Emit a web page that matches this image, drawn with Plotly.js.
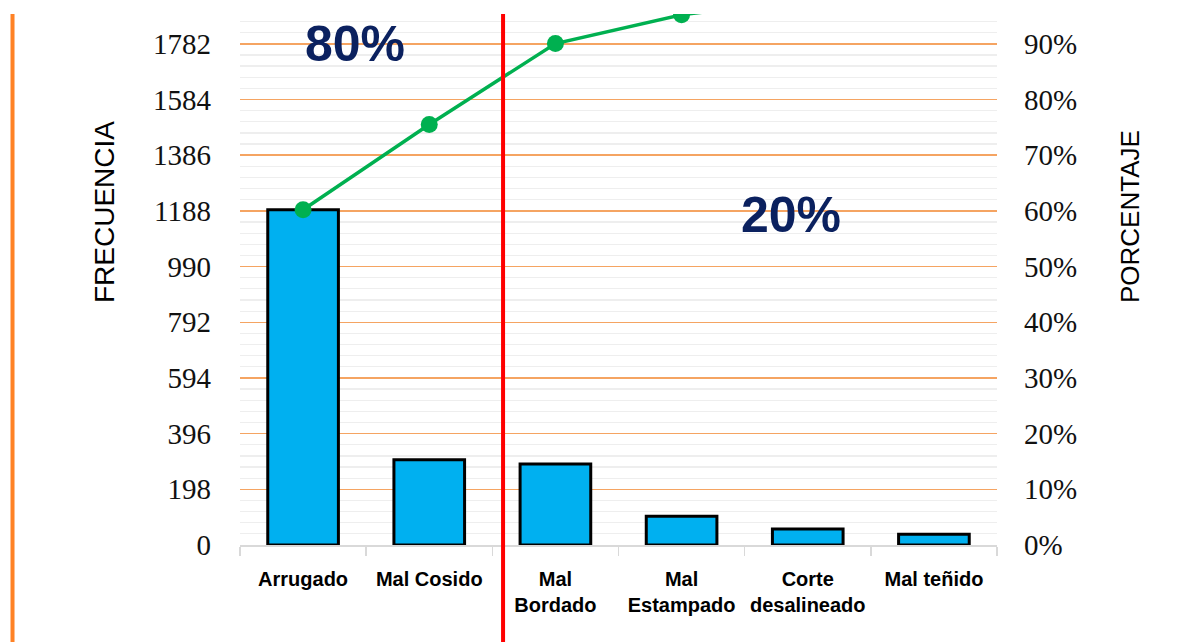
<!DOCTYPE html>
<html>
<head>
<meta charset="utf-8">
<script src="https://cdn.plot.ly/plotly-3.0.1.min.js"></script>
<style>
  html, body { margin: 0; padding: 0; background: #ffffff; }
  #chart { width: 1198px; height: 642px; }
</style>
</head>
<body>
<div id="chart"></div>
<script>
// ---- data ----
const categories = ["Arrugado", "Mal Cosido", "Mal<br>Bordado", "Mal<br>Estampado", "Corte<br>desalineado", "Mal teñido"];
const frecuencia = [1192, 303, 288, 102, 57, 38];
const leftTicks = [0, 198, 396, 594, 792, 990, 1188, 1386, 1584, 1782];
const rightTicks = [0, 10, 20, 30, 40, 50, 60, 70, 80, 90];
const visibleTop = 1888; // top of the (cropped) primary axis

// cumulative percentage derived from the frequencies
const total = frecuencia.reduce((a, b) => a + b, 0);
let run = 0;
const porcentaje = frecuencia.map(v => { run += v; return run / total * 100; });

const bars = {
  type: 'bar',
  x: categories,
  y: frecuencia,
  marker: { color: '#00B0F0', line: { color: '#000000', width: 3 } },
  yaxis: 'y',
  hoverinfo: 'x+y'
};

const line = {
  type: 'scatter',
  mode: 'lines+markers',
  x: categories,
  y: porcentaje,
  yaxis: 'y2',
  line: { color: '#00B050', width: 3.5 },
  marker: { color: '#00B050', size: 17 },
  cliponaxis: true
};

const tickFont = { family: 'Liberation Serif, Times New Roman, serif', size: 29, color: '#111111' };
const titleFont = { family: 'Liberation Sans, Arial, sans-serif', size: 28, color: '#000000' };

const layout = {
  width: 1198,
  height: 642,
  margin: { l: 240, r: 201, t: 14, b: 97 },
  paper_bgcolor: '#ffffff',
  plot_bgcolor: '#ffffff',
  showlegend: false,
  bargap: 0.44,
  xaxis: {
    type: 'category',
    showgrid: false,
    showline: true,
    linecolor: '#D9D9D9',
    linewidth: 1.5,
    ticks: 'outside',
    tickson: 'boundaries',
    ticklen: 9,
    tickcolor: '#D9D9D9',
    tickwidth: 1.5,
    ticklabelstandoff: 15,
    tickfont: { family: 'Liberation Sans, Arial, sans-serif', size: 20, color: '#000000', weight: 'bold' },
    range: [-0.5, 5.5]
  },
  yaxis: {
    range: [0, visibleTop],
    tickvals: leftTicks,
    ticktext: leftTicks.map(String),
    tickfont: tickFont,
    ticklabelstandoff: 28,
    showgrid: true,
    gridcolor: '#F5A462',
    gridwidth: 1.5,
    zeroline: false,
    showline: false,
    minor: { dtick: 39.6, tick0: 0, showgrid: true, gridcolor: '#EEEEEE', gridwidth: 1.2 }
  },
  yaxis2: {
    overlaying: 'y',
    side: 'right',
    range: [0, visibleTop / total * 100],
    tickvals: rightTicks,
    ticktext: rightTicks.map(v => v + '%'),
    tickfont: tickFont,
    ticklabelstandoff: 26,
    showgrid: false,
    zeroline: false,
    showline: false
  },
  shapes: [
    { type: 'line', xref: 'x', yref: 'paper', x0: 1.585, x1: 1.585, y0: -0.2, y1: 1,
      line: { color: '#FF0000', width: 4 } },
    { type: 'line', xref: 'paper', yref: 'paper', x0: -0.3005, x1: -0.3005, y0: -0.2, y1: 1,
      line: { color: '#FF8225', width: 4 } }
  ],
  annotations: [
    { xref: 'paper', yref: 'paper', x: (104 - 240) / 757, y: (545 - 212) / 531,
      text: 'FRECUENCIA', textangle: -90, showarrow: false, font: titleFont,
      xanchor: 'center', yanchor: 'middle' },
    { xref: 'paper', yref: 'paper', x: (1130 - 240) / 757, y: (545 - 217) / 531,
      text: 'PORCENTAJE', textangle: -90, showarrow: false,
      font: { family: titleFont.family, size: 26, color: '#000000' },
      xanchor: 'center', yanchor: 'middle' },
    { xref: 'x', yref: 'y', x: 0.41, y: 1782, text: '<b>80%</b>', showarrow: false,
      font: { family: 'Liberation Sans, Arial, sans-serif', size: 50, color: '#0B215F' } },
    { xref: 'x', yref: 'y', x: 3.87, y: 1173, text: '<b>20%</b>', showarrow: false,
      font: { family: 'Liberation Sans, Arial, sans-serif', size: 50, color: '#0B215F' } }
  ]
};

Plotly.newPlot('chart', [bars, line], layout, { displayModeBar: false, staticPlot: true });
</script>
</body>
</html>
